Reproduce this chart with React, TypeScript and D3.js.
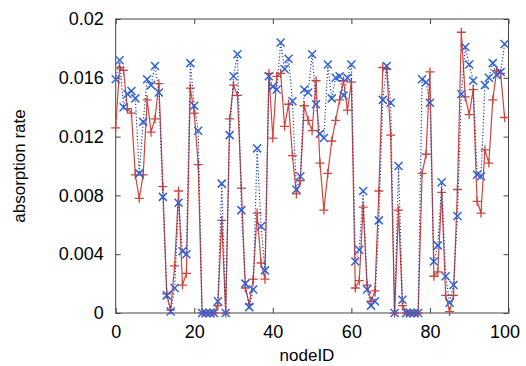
import React, { useEffect, useRef } from 'react';
import * as d3 from 'd3';

// absorption rate per node (nodes 0..99)
const redRate = [
  0.0126, 0.0167, 0.0165, 0.0139, 0.0136, 0.0094, 0.0078, 0.0094, 0.0145, 0.0123,
  0.0132, 0.0156, 0.0086, 0.0013, 0.0002, 0.0032, 0.0083, 0.0019, 0.0027, 0.0153,
  0.0136, 0.0101, 0, 0, 0, 0, 0.0005, 0.0063, 0, 0.0132,
  0.0155, 0.0148, 0.0085, 0.0017, 0.0006, 0.0023, 0.0068, 0.0034, 0.0023, 0.0163,
  0.0119, 0.0161, 0.0163, 0.0127, 0.0142, 0.0107, 0.0081, 0.009, 0.0141, 0.0131,
  0.0124, 0.0158, 0.0102, 0.007, 0.0095, 0.0117, 0.0131, 0.0145, 0.0158, 0.0138,
  0.0157, 0.0017, 0.0022, 0.0072, 0.0019, 0.0008, 0.0015, 0.0083, 0.0167, 0.0166,
  0.0121, 0, 0.007, 0.0005, 0, 0, 0, 0, 0.0095, 0.0108,
  0.0164, 0.0025, 0.0028, 0.0082, 0.0012, 0.0001, 0.0012, 0.0084, 0.0191, 0.0147,
  0.0135, 0.0152, 0.0076, 0.0068, 0.0111, 0.0102, 0.0145, 0.0165, 0.0163, 0.0133,
];

const blueRate = [
  0.0159, 0.0172, 0.014, 0.0149, 0.0151, 0.0146, 0.0095, 0.013, 0.0159, 0.0155,
  0.0168, 0.015, 0.0079, 0.0012, 0.0001, 0.0017, 0.0075, 0.0042, 0.004, 0.017,
  0.0141, 0.0124, 0, 0, 0, 0, 0.0008, 0.0088, 0, 0.0121,
  0.0161, 0.0176, 0.007, 0.002, 0.0004, 0.0016, 0.0112, 0.0059, 0.0029, 0.0161,
  0.0154, 0.0152, 0.0184, 0.0166, 0.0173, 0.0144, 0.0084, 0.0093, 0.0152, 0.015,
  0.0176, 0.0142, 0.0122, 0.0119, 0.0169, 0.0146, 0.016, 0.0161, 0.0148, 0.016,
  0.0169, 0.0035, 0.0043, 0.0083, 0.0016, 0.0005, 0.0008, 0.0063, 0.0145, 0.0168,
  0.0143, 0, 0.01, 0.0009, 0, 0, 0, 0, 0.0159, 0.0157,
  0.0143, 0.0035, 0.0046, 0.0089, 0.0025, 0.0007, 0.0019, 0.0066, 0.0149, 0.0181,
  0.0169, 0.0158, 0.0094, 0.0093, 0.0155, 0.016, 0.017, 0.0162, 0.0164, 0.0183,
];

const xTicks = [0, 20, 40, 60, 80, 100];
const yTicks = [0, 0.004, 0.008, 0.012, 0.016, 0.02];

const App = () => {
  const svgRef = useRef(null);

  useEffect(() => {
    const svg = d3.select(svgRef.current);
    svg.selectAll('*').remove();

    const W = 526, H = 366;
    const margin = { top: 19, right: 17.5, bottom: 53, left: 115.7 };
    const width = W - margin.left - margin.right;
    const height = H - margin.top - margin.bottom;
    const font = 'Liberation Sans, Arial, sans-serif';

    const g = svg.append('g').attr('transform', `translate(${margin.left},${margin.top})`);

    const x = d3.scaleLinear().domain([0, 100]).range([0, width]);
    const y = d3.scaleLinear().domain([0, 0.02]).range([height, 0]);

    // axes with inward ticks on all four sides
    const fmt = d => (d === 0 ? '0' : String(+d.toFixed(3)));
    const bottom = g.append('g').attr('transform', `translate(0,${height})`)
      .call(d3.axisBottom(x).tickValues(xTicks).tickSizeInner(-5).tickSizeOuter(0).tickPadding(14));
    const left = g.append('g')
      .call(d3.axisLeft(y).tickValues(yTicks).tickFormat(fmt).tickSizeInner(-5).tickSizeOuter(0).tickPadding(12));
    g.append('g').call(d3.axisTop(x).tickValues(xTicks).tickSizeInner(-5).tickSizeOuter(0).tickFormat(() => ''));
    g.append('g').attr('transform', `translate(${width},0)`)
      .call(d3.axisRight(y).tickValues(yTicks).tickSizeInner(-5).tickSizeOuter(0).tickFormat(() => ''));

    g.selectAll('.domain').remove();
    g.selectAll('.tick line').attr('stroke', '#444');
    [bottom, left].forEach(a => a.selectAll('text')
      .attr('fill', '#000').style('font-family', font).style('font-size', '18px'));
    bottom.selectAll('text').attr('dy', '0.6em');
    // last label is pulled in a little so it stays on the page
    bottom.selectAll('text').filter(d => d === 100).attr('dx', -4);

    g.append('rect').attr('width', width).attr('height', height)
      .attr('fill', 'none').attr('stroke', '#444').attr('stroke-width', 1);

    const red = '#d0453c';
    const blue = '#2f62d8';

    const line = d3.line().x((d, i) => x(i)).y(d => y(d));

    // red series: solid line with + points
    g.append('path').datum(redRate).attr('d', line)
      .attr('fill', 'none').attr('stroke', red).attr('stroke-width', 1.2);
    g.selectAll('.plus').data(redRate).enter().append('path')
      .attr('transform', (d, i) => `translate(${x(i)},${y(d)})`)
      .attr('d', 'M-4.5,0H4.5M0,-4.5V4.5')
      .attr('stroke', red).attr('stroke-width', 1.3).attr('fill', 'none');

    // blue series: dotted line with x points
    g.append('path').datum(blueRate).attr('d', line)
      .attr('fill', 'none').attr('stroke', '#2540a8').attr('stroke-width', 1.2)
      .attr('stroke-dasharray', '1.2,2');
    g.selectAll('.cross').data(blueRate).enter().append('path')
      .attr('transform', (d, i) => `translate(${x(i)},${y(d)})`)
      .attr('d', 'M-4,-4L4,4M-4,4L4,-4')
      .attr('stroke', blue).attr('stroke-width', 1.5).attr('fill', 'none');

    // axis titles
    svg.append('text')
      .attr('x', 307).attr('y', 361)
      .attr('text-anchor', 'middle')
      .style('font-family', font).style('font-size', '17px')
      .text('nodeID');

    svg.append('text')
      .attr('transform', `translate(25,${margin.top + height / 2}) rotate(-90)`)
      .attr('text-anchor', 'middle')
      .style('font-family', font).style('font-size', '17px')
      .text('absorption rate');
  }, []);

  return (
    <svg ref={svgRef} width={526} height={366}
      style={{ position: 'absolute', left: 0, top: 0, background: '#fff' }} />
  );
};

export default App;
